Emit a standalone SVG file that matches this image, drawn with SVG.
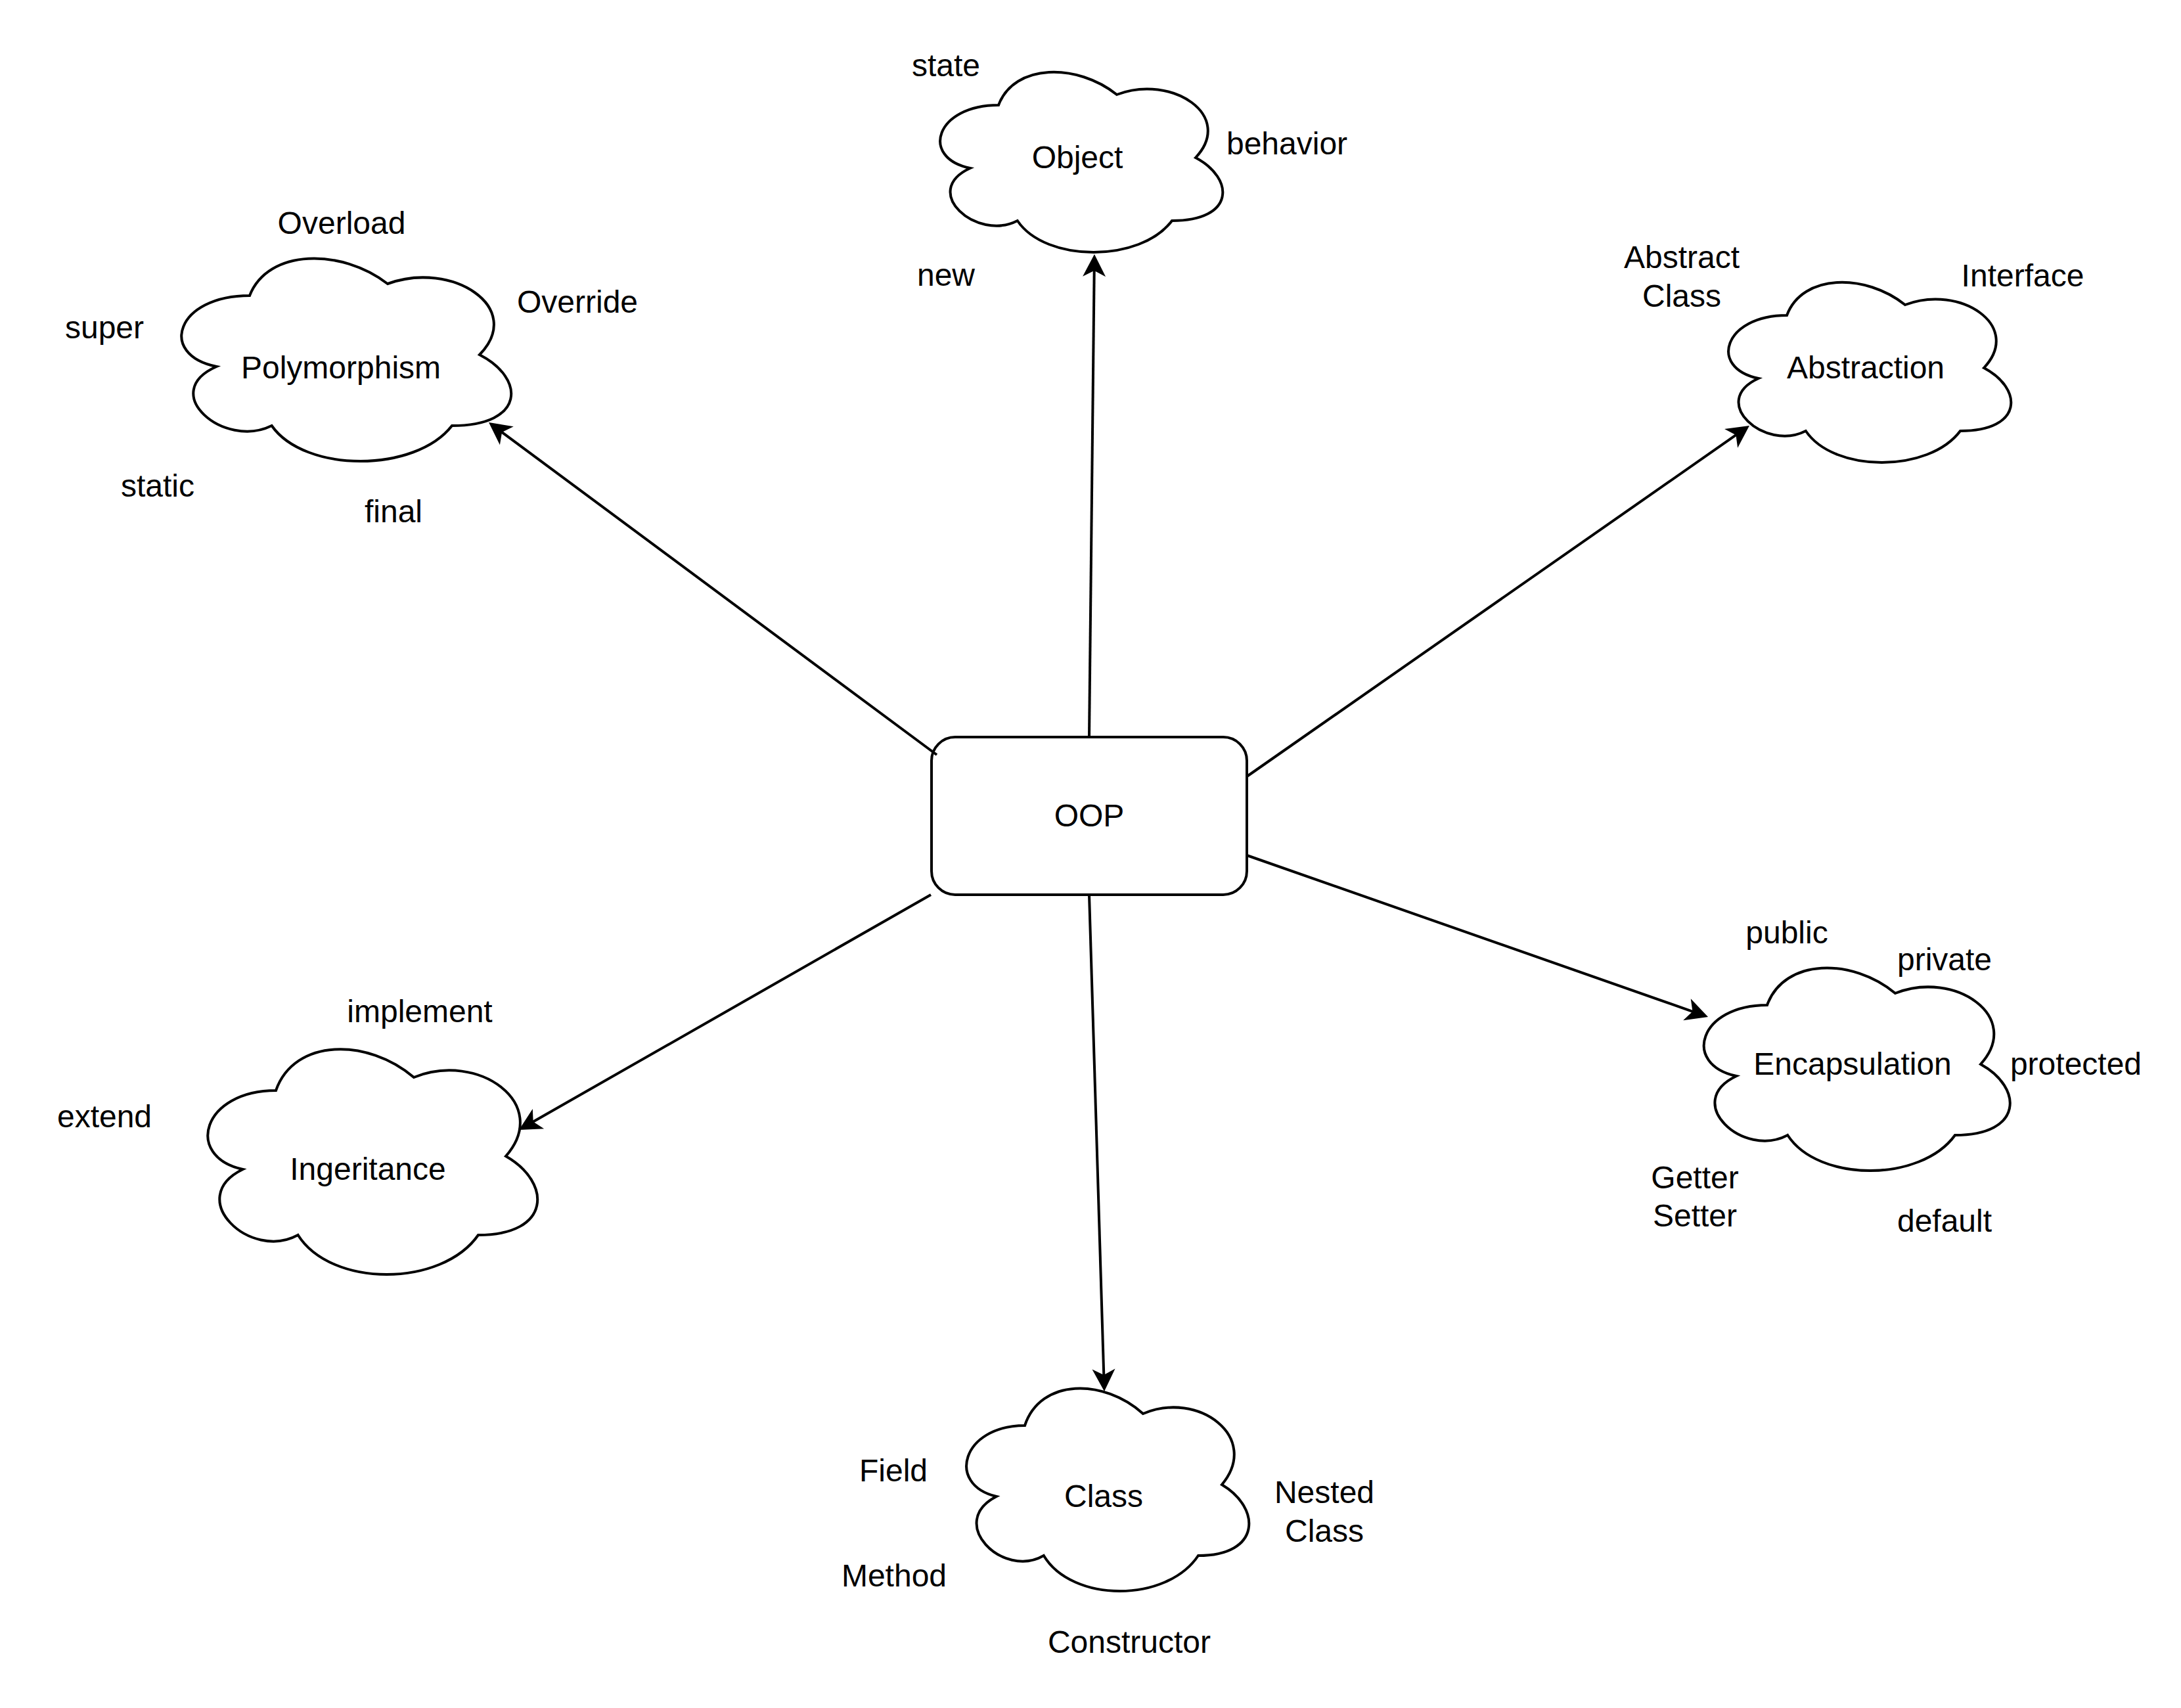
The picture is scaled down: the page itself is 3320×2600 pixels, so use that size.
<svg xmlns="http://www.w3.org/2000/svg" width="3320" height="2600" viewBox="0 0 3320 2600">
<style>
.shape{fill:#ffffff;stroke:#000000;stroke-width:4;stroke-linejoin:miter}
.edge{fill:none;stroke:#000000;stroke-width:4}
text{font-family:"Liberation Sans",Arial,Helvetica,sans-serif;font-size:48px;fill:#000000;text-anchor:middle}
</style>
<defs>
<marker id="arrow" markerUnits="userSpaceOnUse" orient="auto" refX="-24" refY="0" markerWidth="80" markerHeight="80" overflow="visible">
<path d="M0,0 L-34,-17.5 L-25,0 L-34,17.5 Z" fill="#000000"/>
</marker>
</defs>
<rect x="0" y="0" width="3320" height="2600" fill="#ffffff"/>
<g id="node-oop">
<rect class="shape" x="1418" y="1122" width="480" height="240" rx="36" ry="36"/>
<text x="1658" y="1258">OOP</text>
</g>
<g id="node-object">
<path class="shape" d="M1520,160 C1424,160 1400,240 1476.8,256 C1400,291.2 1486.4,368 1548.8,336 C1592,400 1736,400 1784,336 C1880,336 1880,272 1820,240 C1880,176 1784,112 1700,144 C1640,96 1544,96 1520,160 Z"/>
<text x="1640" y="256">Object</text>
</g>
<g id="node-polymorphism">
<path class="shape" d="M380,450 C268,450 240,540 329.6,558 C240,597.6 340.8,684 413.6,648 C464,720 632,720 688,648 C800,648 800,576 730,540 C800,468 688,396 590,432 C520,378 408,378 380,450 Z"/>
<text x="519" y="576">Polymorphism</text>
</g>
<g id="node-abstraction">
<path class="shape" d="M2720,480 C2624,480 2600,560 2676.8,576 C2600,611.2 2686.4,688 2748.8,656 C2792,720 2936,720 2984,656 C3080,656 3080,592 3020,560 C3080,496 2984,432 2900,464 C2840,416 2744,416 2720,480 Z"/>
<text x="2840" y="576">Abstraction</text>
</g>
<g id="node-encapsulation">
<path class="shape" d="M2690,1530 C2586,1530 2560,1620 2643.2,1638 C2560,1677.6 2653.6,1764 2721.2,1728 C2768,1800 2924,1800 2976,1728 C3080,1728 3080,1656 3015,1620 C3080,1548 2976,1476 2885,1512 C2820,1458 2716,1458 2690,1530 Z"/>
<text x="2820" y="1636">Encapsulation</text>
</g>
<g id="node-ingeritance">
<path class="shape" d="M420,1660 C308,1660 280,1760 369.6,1780 C280,1824 380.8,1920 453.6,1880 C504,1960 672,1960 728,1880 C840,1880 840,1800 770,1760 C840,1680 728,1600 630,1640 C560,1580 448,1580 420,1660 Z"/>
<text x="560" y="1796">Ingeritance</text>
</g>
<g id="node-class">
<path class="shape" d="M1560,2170 C1464,2170 1440,2260 1516.8,2278 C1440,2317.6 1526.4,2404 1588.8,2368 C1632,2440 1776,2440 1824,2368 C1920,2368 1920,2296 1860,2260 C1920,2188 1824,2116 1740,2152 C1680,2098 1584,2098 1560,2170 Z"/>
<text x="1680" y="2294">Class</text>
</g>
<g id="labels-object">
<text x="1440" y="116">state</text>
<text x="1959" y="235">behavior</text>
<text x="1440" y="435">new</text>
</g>
<g id="labels-polymorphism">
<text x="520" y="356">Overload</text>
<text x="879" y="476">Override</text>
<text x="159" y="515">super</text>
<text x="240" y="756">static</text>
<text x="599" y="795">final</text>
</g>
<g id="labels-abstraction">
<text x="2560" y="408">Abstract<tspan x="2560" dy="59">Class</tspan></text>
<text x="3079" y="436">Interface</text>
</g>
<g id="labels-encapsulation">
<text x="2720" y="1436">public</text>
<text x="2960" y="1477">private</text>
<text x="3160" y="1636">protected</text>
<text x="2580" y="1809">Getter<tspan x="2580" dy="58">Setter</tspan></text>
<text x="2960" y="1875">default</text>
</g>
<g id="labels-ingeritance">
<text x="639" y="1556">implement</text>
<text x="159" y="1716">extend</text>
</g>
<g id="labels-class">
<text x="1360" y="2255">Field</text>
<text x="1361" y="2415">Method</text>
<text x="2016" y="2288">Nested<tspan x="2016" dy="59">Class</tspan></text>
<text x="1719" y="2516">Constructor</text>
</g>
<g id="connectors">
<path class="edge" marker-end="url(#arrow)" d="M1658,1122 L1665.7,411"/>
<path class="edge" marker-end="url(#arrow)" d="M1426,1149 L763.3,657.3"/>
<path class="edge" marker-end="url(#arrow)" d="M1898,1182 L2643.3,661.7"/>
<path class="edge" marker-end="url(#arrow)" d="M1898,1302 L2577.4,1540.1"/>
<path class="edge" marker-end="url(#arrow)" d="M1417,1362 L810.8,1708.1"/>
<path class="edge" marker-end="url(#arrow)" d="M1658,1362 L1680.3,2094"/>
</g>
</svg>
